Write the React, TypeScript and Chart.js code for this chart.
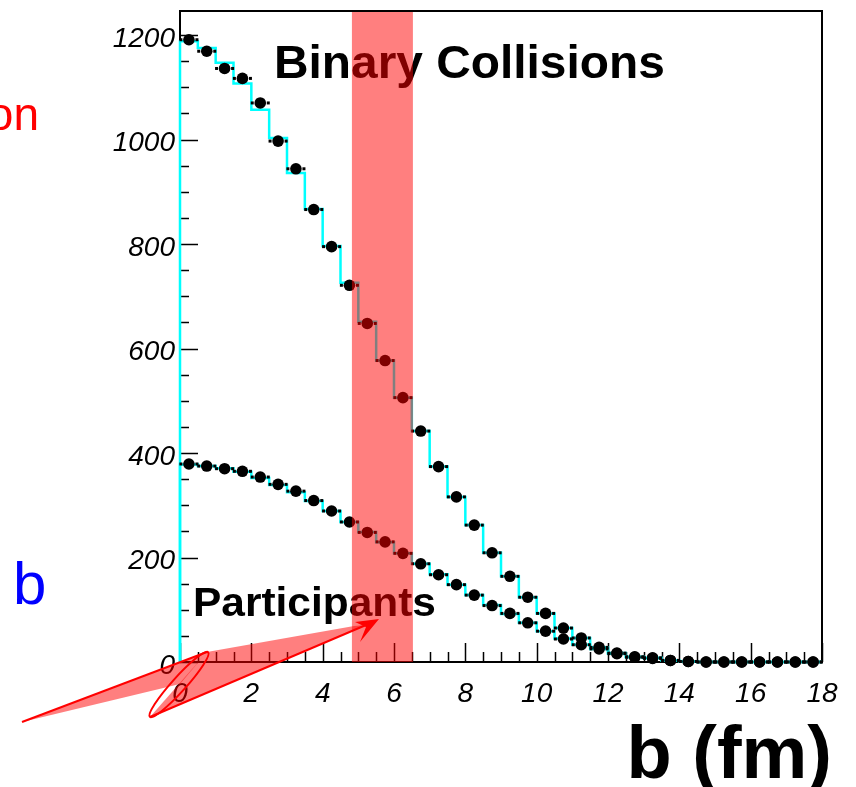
import React, { useEffect, useRef } from 'react';
import { Chart, registerables } from 'chart.js';

Chart.register(...registerables);

// ---- data ----
const binCenters = [
  0.25, 0.75, 1.25, 1.75, 2.25, 2.75, 3.25, 3.75, 4.25, 4.75, 5.25, 5.75,
  6.25, 6.75, 7.25, 7.75, 8.25, 8.75, 9.25, 9.75, 10.25, 10.75, 11.25, 11.75,
  12.25, 12.75, 13.25, 13.75, 14.25, 14.75, 15.25, 15.75, 16.25, 16.75, 17.25, 17.75,
];
const binaryPoints = [
  1191, 1169, 1136, 1117, 1070, 997, 944, 866, 795, 721, 648, 577,
  506, 442, 374, 316, 262, 209, 164, 124, 93, 65, 46, 28,
  17, 10, 8, 3, 1, 0, 0, 0, 0, 0, 0, 0,
];
const binaryHist = [
  1188, 1175, 1147, 1107, 1057, 1003, 936, 867, 796, 726, 651, 577,
  506, 442, 374, 316, 262, 209, 164, 124, 93, 65, 46, 28,
  17, 10, 8, 3, 1, 0, 0, 0, 0, 0, 0, 0,
];
const participantPoints = [
  379, 375, 370, 365, 354, 340, 327, 309, 289, 268, 248, 230,
  208, 188, 167, 148, 128, 108, 93, 75, 59, 44, 33, 25,
  16, 9, 7, 3, 1, 0, 0, 0, 0, 0, 0, 0,
];
const participantHist = [
  378, 375, 371, 364, 352, 339, 325, 308, 289, 268, 249, 229,
  208, 188, 168, 148, 128, 109, 92, 75, 59, 45, 33, 25,
  16, 9, 7, 3, 1, 0, 0, 0, 0, 0, 0, 0,
];
const xTickStep = 2;
const xMinorStep = 0.5;
const yTickStep = 200;
const yMinorStep = 50;
const xRange = [0, 18];
const yRange = [0, 1246];
const bandRange = [4.82, 6.53];
const labelBinary = 'Binary Collisions';
const labelParticipants = 'Participants';
const axisTitle = 'b (fm)';

const binWidth = binCenters[1] - binCenters[0];

function stepData(hist: number[]) {
  const pts: { x: number; y: number }[] = [{ x: binCenters[0] - binWidth / 2, y: 0 }];
  hist.forEach((v, i) => pts.push({ x: binCenters[i] - binWidth / 2, y: v }));
  pts.push({ x: binCenters[hist.length - 1] + binWidth / 2, y: hist[hist.length - 1] });
  return pts;
}
function pointData(vals: number[]) {
  return vals.map((v, i) => ({ x: binCenters[i], y: v }));
}

const FONT = "'Liberation Sans', Arial, Helvetica, sans-serif";

function scaledText(ctx: any, text: string, x: number, y: number, sx: number) {
  ctx.save();
  ctx.translate(x, y);
  ctx.scale(sx, 1);
  ctx.fillText(text, 0, 0);
  ctx.restore();
}

const decorPlugin = {
  id: 'decor',
  beforeDatasetsDraw(chart: any) {
    const { ctx, chartArea: a, scales } = chart;
    const x = scales.x, y = scales.y;
    ctx.save();
    ctx.strokeStyle = '#000';
    ctx.lineWidth = 2;
    ctx.strokeRect(a.left, a.top, a.right - a.left, a.bottom - a.top);
    ctx.lineWidth = 1.5;
    ctx.beginPath();
    for (let v = xRange[0]; v <= xRange[1] + 1e-9; v += xMinorStep) {
      const px = Math.round(x.getPixelForValue(v)) + 0.5;
      const major = Math.abs(v / xTickStep - Math.round(v / xTickStep)) < 1e-6;
      ctx.moveTo(px, a.bottom);
      ctx.lineTo(px, a.bottom - (major ? 19 : 10));
    }
    for (let v = yRange[0]; v <= yRange[1] + 1e-9; v += yMinorStep) {
      const py = Math.round(y.getPixelForValue(v)) + 0.5;
      const major = Math.abs(v / yTickStep - Math.round(v / yTickStep)) < 1e-6;
      ctx.moveTo(a.left, py);
      ctx.lineTo(a.left + (major ? 18 : 9), py);
    }
    ctx.stroke();
    ctx.restore();
  },
  afterDatasetsDraw(chart: any) {
    const { ctx, chartArea: a, scales } = chart;
    const x = scales.x, y = scales.y;
    ctx.save();
    // error bar ends
    ctx.fillStyle = '#000';
    [binaryPoints, participantPoints].forEach((vals) => {
      vals.forEach((v, i) => {
        const py = y.getPixelForValue(v);
        [-1, 1].forEach((s) => {
          const px = x.getPixelForValue(binCenters[i] + s * binWidth * 0.45);
          ctx.fillRect(px - 1.5, py - 1.5, 3, 3);
        });
      });
    });
    // labels
    ctx.fillStyle = '#000';
    ctx.textBaseline = 'alphabetic';
    ctx.textAlign = 'left';
    ctx.font = `bold 46px ${FONT}`;
    scaledText(ctx, labelBinary, 274, 78, 1.04);
    ctx.font = `bold 41px ${FONT}`;
    scaledText(ctx, labelParticipants, 193, 616, 1.035);
    // band
    ctx.fillStyle = 'rgba(255,0,0,0.5)';
    const bx0 = x.getPixelForValue(bandRange[0]);
    const bx1 = x.getPixelForValue(bandRange[1]);
    ctx.fillRect(bx0, a.top + 1, bx1 - bx0, a.bottom - a.top - 1);
    ctx.restore();
  },
  afterDraw(chart: any) {
    const { ctx } = chart;
    ctx.save();
    // outside texts
    ctx.textBaseline = 'alphabetic';
    ctx.fillStyle = '#ff0000';
    ctx.font = `46px ${FONT}`;
    ctx.textAlign = 'right';
    ctx.fillText('on', 39, 130);
    ctx.fillStyle = '#0000ff';
    ctx.textAlign = 'left';
    ctx.font = `60px ${FONT}`;
    ctx.fillText('b', 13, 604);
    ctx.fillStyle = '#000';
    ctx.font = `bold 74px ${FONT}`;
    ctx.textAlign = 'right';
    ctx.fillText(axisTitle, 832, 778);

    // red arrow decorations
    const fill = 'rgba(255,0,0,0.5)';
    ctx.strokeStyle = '#ff0000';
    ctx.lineWidth = 2;
    ctx.fillStyle = fill;
    ctx.beginPath();
    ctx.moveTo(22, 722);
    ctx.lineTo(207, 652);
    ctx.lineTo(180, 684);
    ctx.closePath();
    ctx.fill();
    ctx.beginPath();
    ctx.moveTo(22, 722);
    ctx.lineTo(207, 652);
    ctx.stroke();

    ctx.beginPath();
    ctx.moveTo(150, 717);
    ctx.lineTo(366, 625);
    ctx.lineTo(354, 626);
    ctx.lineTo(207, 652);
    ctx.closePath();
    ctx.fill();
    ctx.beginPath();
    ctx.moveTo(150, 717);
    ctx.lineTo(366, 625);
    ctx.stroke();

    ctx.beginPath();
    ctx.ellipse(179, 684.5, 43.5, 7, (-48 * Math.PI) / 180, 0, Math.PI * 2);
    ctx.stroke();

    ctx.fillStyle = '#ff0000';
    ctx.beginPath();
    ctx.moveTo(379, 619);
    ctx.lineTo(355, 622);
    ctx.lineTo(366, 627);
    ctx.lineTo(360, 642);
    ctx.closePath();
    ctx.fill();
    ctx.restore();
  },
};

export default function App() {
  const ref = useRef<HTMLCanvasElement | null>(null);
  useEffect(() => {
    if (!ref.current) return;
    const chart = new Chart(ref.current, {
      type: 'scatter',
      data: {
        datasets: [
          {
            type: 'scatter',
            label: 'binary points',
            data: pointData(binaryPoints),
            pointRadius: 5.8,
            pointBackgroundColor: '#000',
            pointBorderWidth: 0,
            order: 0,
            clip: false,
          },
          {
            type: 'scatter',
            label: 'participant points',
            data: pointData(participantPoints),
            pointRadius: 5.8,
            pointBackgroundColor: '#000',
            pointBorderWidth: 0,
            order: 1,
            clip: false,
          },
          {
            type: 'line',
            label: 'binary hist',
            data: stepData(binaryHist),
            borderColor: '#00ffff',
            borderWidth: 2.5,
            stepped: 'before',
            pointRadius: 0,
            fill: false,
            order: 2,
            clip: false,
          },
          {
            type: 'line',
            label: 'participant hist',
            data: stepData(participantHist),
            borderColor: '#00ffff',
            borderWidth: 2.5,
            stepped: 'before',
            pointRadius: 0,
            fill: false,
            order: 3,
            clip: false,
          },
        ],
      } as any,
      options: {
        animation: false,
        responsive: false,
        maintainAspectRatio: false,
        layout: { padding: { left: 0, right: 34, top: 11, bottom: 0 } },
        plugins: { legend: { display: false }, tooltip: { enabled: false }, title: { display: false } },
        scales: {
          x: {
            type: 'linear',
            min: xRange[0],
            max: xRange[1],
            grid: { display: false, drawTicks: false },
            border: { display: false },
            ticks: {
              stepSize: xTickStep,
              includeBounds: false,
              padding: 15,
              color: '#000',
              maxRotation: 0,
              autoSkip: false,
              callback: (v: any) => String(v),
              font: { family: FONT, size: 28, style: 'italic' },
            },
            afterFit: (s: any) => {
              s.height = 125;
              s.paddingLeft = 0;
              s.paddingRight = 0;
            },
          },
          y: {
            type: 'linear',
            min: yRange[0],
            max: yRange[1],
            grid: { display: false, drawTicks: false },
            border: { display: false },
            ticks: {
              stepSize: yTickStep,
              includeBounds: false,
              padding: 5,
              labelOffset: 4,
              color: '#000',
              callback: (v: any) => String(v),
              font: { family: FONT, size: 28, style: 'italic' },
            },
            afterFit: (s: any) => {
              s.width = 180;
              s.paddingTop = 0;
              s.paddingBottom = 0;
            },
          },
        },
      } as any,
      plugins: [decorPlugin],
    });
    return () => chart.destroy();
  }, []);
  return (
    <div style={{ position: 'fixed', left: 0, top: 0, width: 856, height: 787, background: '#fff' }}>
      <canvas ref={ref} width={856} height={787} style={{ width: 856, height: 787, display: 'block' }} />
    </div>
  );
}
